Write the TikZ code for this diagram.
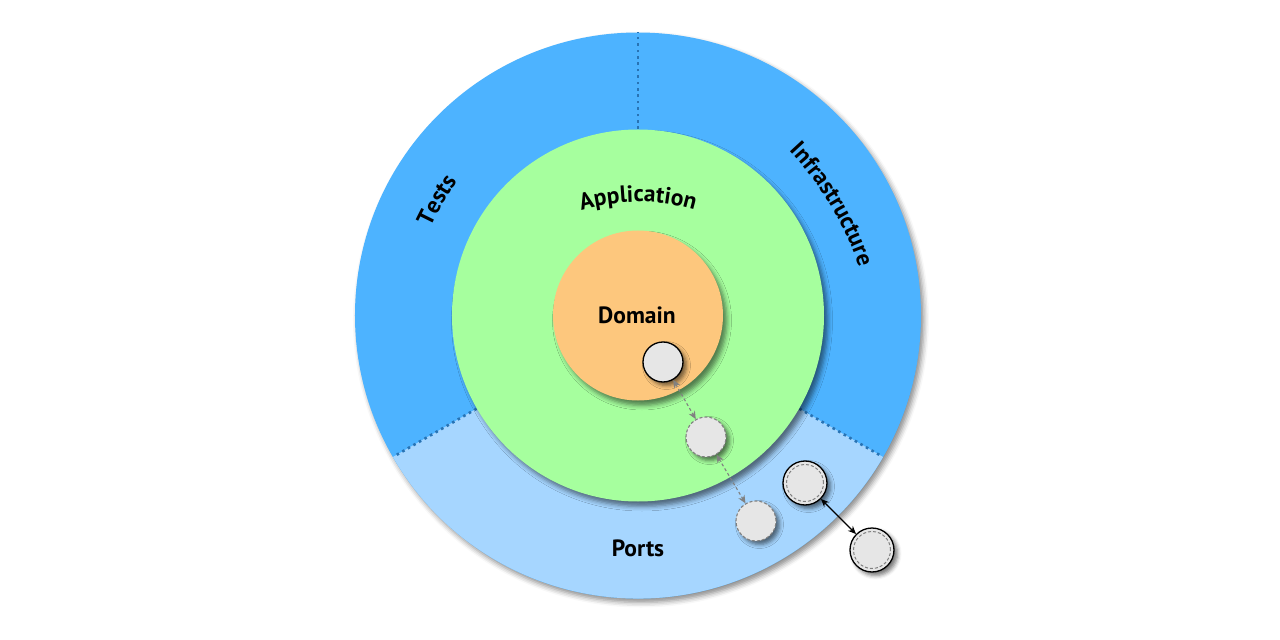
\documentclass[tikz,border=0pt]{standalone}
\usepackage{fontspec}
\setmainfont{PT Sans}
\usetikzlibrary{shadows.blur,decorations.text,arrows.meta}
\definecolor{cblue}{RGB}{77,179,255}
\definecolor{clight}{RGB}{166,214,255}
\definecolor{cgreen}{RGB}{166,255,158}
\definecolor{corange}{RGB}{253,199,125}
\definecolor{cgray}{RGB}{230,230,230}
\definecolor{cdot}{RGB}{40,115,180}
\definecolor{cdash}{RGB}{128,128,128}
\newcommand\lblfont{\fontsize{23.5}{28}\selectfont\bfseries}
\begin{document}
\begin{tikzpicture}[x=1pt,y=1pt,
  disc/.style={circle, inner sep=0pt, draw=none},
  sh/.style={blur shadow={shadow xshift=3pt, shadow yshift=-4pt, shadow blur radius=5pt, shadow opacity=45}},
  shin/.style={blur shadow={shadow xshift=4pt, shadow yshift=-5pt, shadow blur radius=4.5pt, shadow opacity=50}},
  shsmall/.style={blur shadow={shadow xshift=3.5pt, shadow yshift=-3.5pt, shadow blur radius=4pt, shadow opacity=55}},
  divider/.style={draw=cdot, line width=2.6pt, dash pattern=on 2.6pt off 3.8pt},
  portsolid/.style={circle, inner sep=0pt, minimum size=40pt, fill=cgray, draw=black, line width=1.3pt, shsmall},
  portdash/.style={circle, inner sep=0pt, minimum size=40pt, fill=cgray, draw=cdash, line width=1.1pt, dash pattern=on 3pt off 2pt, shsmall},
  portdouble/.style={circle, inner sep=0pt, minimum size=44pt, fill=cgray, draw=black, line width=1.3pt, shsmall},
  innerdash/.style={draw=cdash, line width=1pt, dash pattern=on 3pt off 2pt},
  garrow/.style={draw=cdash, line width=1.1pt, dash pattern=on 3pt off 2.5pt, {Stealth[length=8pt,width=7pt]}-{Stealth[length=8pt,width=7pt]}},
  barrow/.style={draw=black, line width=1.1pt, {Stealth[length=8pt,width=7pt]}-{Stealth[length=8pt,width=7pt]}},
  lbl/.style={font=\lblfont, text=black},
  curved/.style={decorate, decoration={text along path, text={|\lblfont|#1}, text align=center}}
]
\useasboundingbox (-638,-324) rectangle (642,316);
% outer ring
\node[disc, minimum size=566pt, fill=cblue, sh] (outer) at (0,0.5) {};
\fill[clight] (0,0.5) -- ++(210:283) arc (210:330:283) -- cycle;
\draw[divider] ([shift={(0,0.5)}]90:180) -- ([shift={(0,0.5)}]90:283);
\draw[divider] ([shift={(0,0.5)}]210:180) -- ([shift={(0,0.5)}]210:282);
\draw[divider] ([shift={(0,0.5)}]330:180) -- ([shift={(0,0.5)}]330:282);
% application
\node[disc, minimum size=372pt, fill=cgreen, shin] (app) at (0,0.5) {};
% domain
\node[disc, minimum size=170pt, fill=corange, shin] (dom) at (0,0.5) {};
% labels
\node[lbl] (domlbl) at (-1,1) {Domain};
\node[lbl] (portlbl) at (0,-232) {Ports};
\path[curved=Application] ([shift={(0,-86)}]114:200) arc (114:66:200);
\path[curved=Tests] ([shift={(82,-47.5)}]180:320) arc (180:120:320);
\path[curved=Infrastructure] ([shift={(-82,-54)}]65:320) arc (65:-3:320);
% ports
\node[portsolid] (c1) at (25,-46) {};
\node[portdash] (c2) at (68,-121) {};
\node[portdash] (c3) at (118,-205) {};
\node[portdouble] (c4) at (167,-167) {};
\node[portdouble] (c5) at (234,-234) {};
\draw[innerdash] (c4.center) circle (18.5pt);
\draw[innerdash] (c5.center) circle (18.5pt);
% arrows
\draw[garrow] (c1) -- (c2);
\draw[garrow] (c2) -- (c3);
\draw[barrow] (c4) -- (c5);
\end{tikzpicture}
\end{document}
